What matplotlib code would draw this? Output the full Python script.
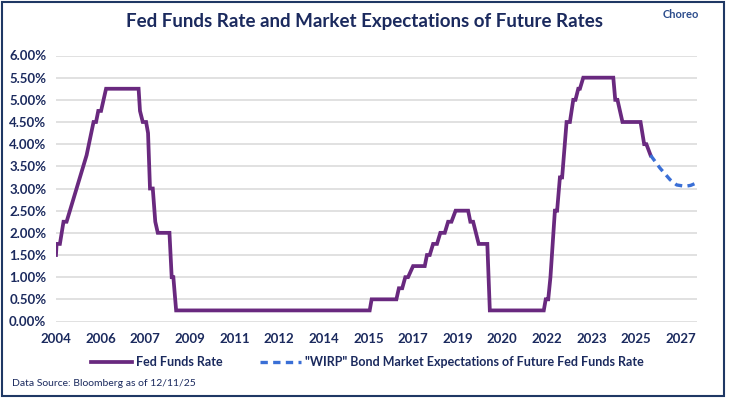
import matplotlib
matplotlib.use('Agg')
import matplotlib.pyplot as plt
from matplotlib.patches import Rectangle
from matplotlib.ticker import FuncFormatter
import numpy as np

# Fed funds rate (upper bound), decimal year vs %
ff_t = [2004.68, 2004.70, 2004.82, 2004.95, 2005.06, 2005.78, 2006.03, 2006.12, 2006.20, 2006.30,
        2006.48, 2007.65, 2007.70, 2007.80, 2007.92, 2007.99, 2008.06, 2008.16, 2008.25, 2008.34,
        2008.76, 2008.84, 2008.90, 2009.00, 2015.96, 2016.03, 2016.92, 2017.01, 2017.13, 2017.24,
        2017.34, 2017.52, 2017.94, 2018.02, 2018.12, 2018.24, 2018.38, 2018.50, 2018.66, 2018.78,
        2018.90, 2019.05, 2019.50, 2019.58, 2019.68, 2019.88, 2020.19, 2020.28, 2022.22, 2022.29,
        2022.38, 2022.46, 2022.62, 2022.70, 2022.80, 2022.88, 2023.04, 2023.16, 2023.28, 2023.36,
        2023.46, 2023.52, 2023.64, 2024.72, 2024.79, 2024.87, 2025.05, 2025.70, 2025.83, 2025.91,
        2026.06]
ff_rate = [1.50, 1.75, 1.75, 2.25, 2.25, 3.75, 4.50, 4.50, 4.75, 4.75,
           5.25, 5.25, 4.75, 4.50, 4.50, 4.25, 3.00, 3.00, 2.25, 2.00,
           2.00, 1.00, 1.00, 0.25, 0.25, 0.50, 0.50, 0.75, 0.75, 1.00,
           1.00, 1.25, 1.25, 1.50, 1.50, 1.75, 1.75, 2.00, 2.00, 2.25,
           2.25, 2.50, 2.50, 2.25, 2.25, 1.75, 1.75, 0.25, 0.25, 0.50,
           0.50, 1.00, 2.50, 2.50, 3.25, 3.25, 4.50, 4.50, 5.00, 5.00,
           5.25, 5.25, 5.50, 5.50, 5.00, 5.00, 4.50, 4.50, 4.00, 4.00,
           3.75]

# WIRP market-implied path
wirp_t = [2026.06, 2026.40, 2026.76, 2027.00, 2027.30, 2027.50, 2027.73]
wirp_rate = [3.75, 3.46, 3.20, 3.08, 3.05, 3.07, 3.13]

tick_labels = ['2004', '2006', '2007', '2009', '2011', '2012', '2014', '2015',
               '2017', '2019', '2020', '2022', '2023', '2025', '2027']
x_start, x_end, tick_step = 2004.68, 2027.73, 1.605

navy = '#1B2A5E'
purple = '#69297F'
blue = '#3A6FD6'
font = 'Lato'

plt.rcParams['font.family'] = [font, 'DejaVu Sans']

fig = plt.figure(figsize=(7.30, 3.99), dpi=100)
ax = fig.add_axes([56/730, 1-321.5/399, (697-56)/730, (321.5-55.5)/399])

ax.plot(ff_t, ff_rate, color=purple, lw=2.7, solid_joinstyle='miter', label='Fed Funds Rate', zorder=3)
ax.plot(wirp_t, wirp_rate, color=blue, lw=2.4, ls=(0, (2.2, 1.6)),
        label='"WIRP" Bond Market Expectations of Future Fed Funds Rate', zorder=3)

ax.set_xlim(x_start, x_end)
ax.set_ylim(0, 6)
ax.set_yticks(np.arange(0, 6.01, 0.5))
ax.yaxis.set_major_formatter(FuncFormatter(lambda v, p: '%.2f%%' % v))
ax.set_xticks([x_start + i*tick_step for i in range(len(tick_labels))])
ax.set_xticklabels(tick_labels)
ax.grid(axis='y', color='#D9D9D9', lw=1.1)
ax.set_axisbelow(True)
for s in ax.spines.values():
    s.set_visible(False)
ax.tick_params(length=0, labelsize=9.5, labelcolor=navy, pad=8)
ax.tick_params(axis='y', pad=7)
for lab in ax.get_xticklabels() + ax.get_yticklabels():
    lab.set_fontweight('bold')

fig.text(0.5, 1-22/399, 'Fed Funds Rate and Market Expectations of Future Rates',
         ha='center', va='center', fontsize=13.5, fontweight='bold', color=navy)
fig.text(681/730, 1-14/399, 'Choreo', ha='center', va='center', fontsize=8,
         color='#2B4C8C', fontweight='bold')
fig.text(12/730, 1-383/399, 'Data Source: Bloomberg as of 12/11/25', ha='left', va='center',
         fontsize=7.5, color=navy)

leg = fig.legend(loc='center', bbox_to_anchor=(0.503, 1-362/399), ncol=2, frameon=False,
                 handlelength=3.3, columnspacing=3.0, handletextpad=0.3, fontsize=9)
for t in leg.get_texts():
    t.set_color(navy)
    t.set_fontweight('bold')

fig.patches.append(Rectangle((2/730, 1-396/399), 722/730, 394/399, transform=fig.transFigure,
                             fill=False, edgecolor='#1F3864', lw=1.5))

fig.savefig('out.png', dpi=100)
